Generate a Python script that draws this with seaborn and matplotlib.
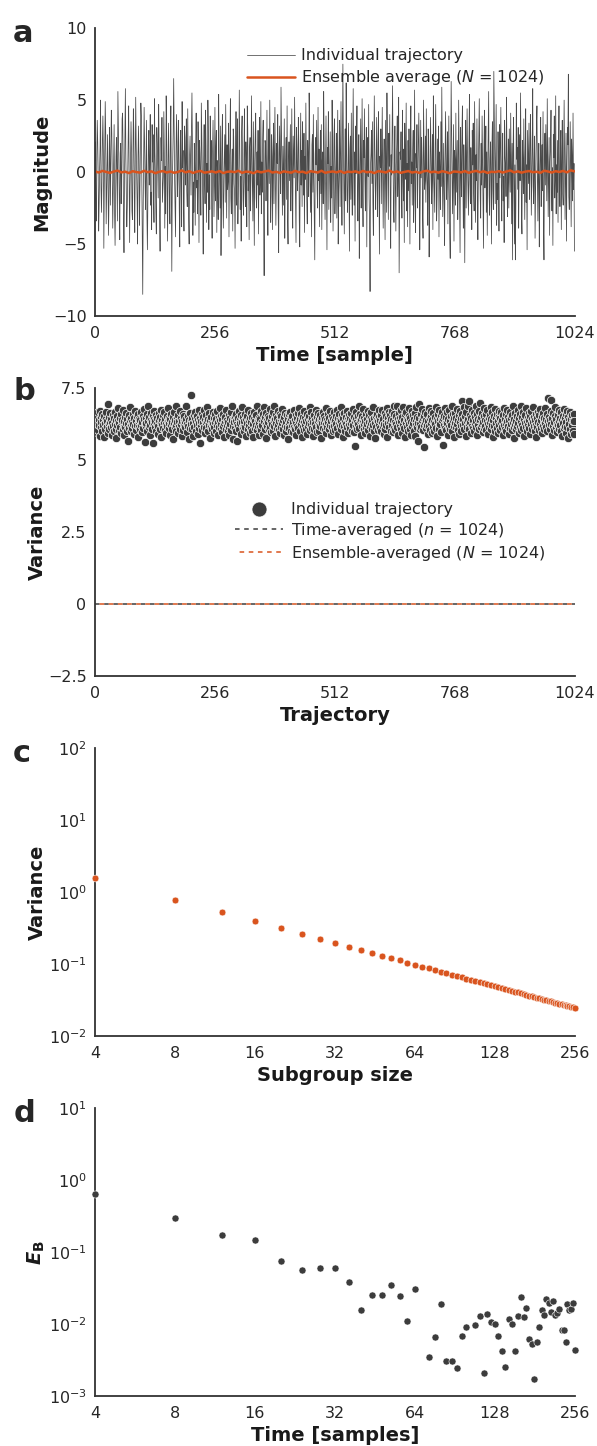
import numpy as np
import matplotlib
matplotlib.use('Agg')
import matplotlib.pyplot as plt
import seaborn as sns

# colours
GREY = '#3c3c3c'
LINE_GREY = '#4a4a4a'
ORANGE = '#d9541e'

# ---------- data ----------
# panel a: one trajectory (1024 samples) and the ensemble average (read every 8 samples)
trajectory = [
    0.8, 2.1, -1.9, -3.4, 1.2, 3.6, 2.0, -0.4, -4.1, -2.2, 0.3, 1.7, 5.0, -1.1, -2.8, -0.6, 2.2, 3.9, 1.4, -5.3, -0.9, 1.6, 4.9, 2.7, -3.6, -1.4, 0.5, 2.6, -0.7, -4.4, -2.0, 3.1,
    0.9, -2.3, 1.6, 4.3, 2.7, -0.2, -3.9, -1.6, 0.5, 3.3, -2.9, -5.1, -1.8, 1.1, 2.4, -0.6, -3.4, 5.6, 3.2, 0.4, -1.8, -4.7, 1.3, 2.0, -2.2, -0.3, 3.7, 4.1, 1.5, -3.0, -5.6, -0.8,
    2.5, 5.8, 0.9, -1.3, -3.8, -2.5, 0.1, 2.3, 4.6, -0.5, -4.9, -1.0, 0.9, 3.5, 1.5, -2.7, -3.3, 0.5, 4.4, 2.8, -1.7, -4.2, 0.6, 5.2, 2.0, -0.1, -2.0, -5.0, 1.2, 3.2, 0.8, -3.7,
    -1.2, 2.1, 4.8, 3.9, -0.4, -4.6, -8.5, -2.4, 1.0, 4.5, 1.7, -0.7, -2.6, 0.3, 3.6, -3.1, -5.4, -1.9, 1.9, 2.9, -0.9, 0.5, 4.0, -2.3, -1.4, -4.0, 3.3, 0.7, 2.6, -1.6, -3.5, 5.1,
    1.4, -0.2, -2.8, -4.3, 3.1, 2.0, 0.2, -1.8, 4.7, 1.6, -3.0, -5.5, -0.6, 2.4, 0.8, 3.8, -2.1, -1.1, -0.3, 4.2, 1.3, -3.9, 0.4, -2.9, 5.3, 2.7, -1.5, -4.8, 0.1, 3.4, 1.0, -2.2,
    -3.6, 2.3, 4.6, -0.8, -6.9, -1.2, 0.9, 2.8, 6.5, 3.0, -0.5, -2.5, -4.5, 1.1, 4.0, 2.1, -1.7, -0.4, 3.6, 1.8, -2.7, -5.2, 0.6, 2.9, -1.0, -3.8, 4.9, 0.3, 1.5, -2.0, -4.1, 3.2,
    2.4, -0.9, 0.7, 3.7, -1.3, -2.4, 4.4, -0.1, -3.3, -5.0, 1.2, 2.5, 0.4, -1.6, 3.1, 5.5, 1.9, -4.4, -0.7, -2.8, 2.0, 0.2, -3.7, 1.6, 4.1, -1.1, -0.6, -2.9, 3.5, 0.9, -4.9, 2.2,
    1.3, -0.3, -3.0, 4.8, 2.6, 0.5, -1.9, -5.7, 1.0, 3.3, -0.8, -2.2, 4.3, 1.8, -3.5, 0.6, -1.4, 5.0, 2.7, -4.0, -0.2, -2.6, 3.9, 0.1, 2.2, -1.7, -4.6, 1.4, 3.6, 0.3, -3.1, -0.9,
    4.5, -2.0, 1.7, 2.9, -4.2, 0.8, -1.0, -3.3, 5.4, 1.5, -0.4, -2.5, 3.2, -5.8, -0.9, 2.3, 4.0, -1.6, -3.9, -0.5, 1.1, 2.6, -2.1, 4.7, 0.3, -3.2, 1.9, -1.2, -0.6, 3.4, -4.5, 0.7,
    2.0, 5.1, -1.8, -2.9, 0.2, 1.6, -4.1, 3.0, 2.5, -0.8, -1.5, -5.3, 0.6, 4.2, -2.3, 1.3, 3.7, -3.6, -1.0, 0.4, 5.7, 1.8, -2.6, -0.3, -4.8, 2.8, 3.9, 0.5, -1.9, -3.0, 1.2, 4.4,
    -0.7, -2.4, 2.1, 0.9, -3.8, 4.6, 3.1, -1.3, -0.2, -4.7, 1.7, 2.4, -2.7, 0.3, 5.3, 1.0, -1.1, -3.4, 3.5, -0.6, -5.1, 0.8, 2.7, 4.1, -1.8, -2.5, 1.4, -0.9, 2.9, -4.3, 0.5, 3.8,
    -1.6, -0.4, 4.9, -2.9, 0.7, -1.4, 2.3, 3.6, -3.1, -7.2, -0.5, 2.2, 1.9, -2.0, 0.1, 4.3, -1.2, -4.4, 1.5, 3.0, -0.8, 5.0, 0.4, -3.5, -1.7, 2.6, 1.1, -4.0, 0.9, 3.4, -2.2, 1.6,
    4.5, -0.3, -3.7, -1.0, 2.0, 0.6, 4.0, -2.6, -5.6, 1.3, 3.2, 0.2, -1.5, 5.9, 2.8, -0.7, -3.0, 1.8, -2.3, 0.5, 3.7, -4.6, -0.1, 1.0, 2.4, -1.9, 4.6, -3.3, -5.0, 0.8, 2.1, -0.6,
    1.4, 3.3, -2.7, 0.3, 4.4, -1.1, -3.9, 2.5, 1.2, -0.4, 5.2, 0.9, -2.1, -4.9, 3.1, 1.7, -1.3, -0.2, 3.8, 2.0, -3.4, -5.2, 0.6, 4.1, -0.9, 1.5, -2.4, 3.5, 0.4, -1.6, 2.7, -4.2,
    1.1, -0.5, 4.8, 0.7, -2.0, -3.6, 2.2, 1.0, -1.7, 5.5, 3.4, -0.8, -2.8, 0.1, -4.5, 1.9, 2.6, -1.4, 4.0, -0.3, -3.1, -6.1, 1.3, 2.4, 0.5, 3.6, -1.2, -2.5, 4.5, -0.6, 1.6, -3.8,
    0.2, 2.9, -1.5, 3.3, -4.0, 0.8, 1.4, -2.2, 5.6, 2.1, -0.5, -3.3, 0.3, 3.9, -1.0, -5.4, 1.7, 0.6, 4.2, -2.6, -0.7, 1.1, 2.8, -3.5, 0.4, -1.8, 5.0, 1.5, -4.1, -0.2, 2.5, 3.7,
    -2.9, -0.9, 0.6, 2.7, -3.2, 1.0, 4.3, -5.0, -1.3, 0.2, 3.6, -2.4, 0.9, 4.9, -0.6, -3.7, 1.8, 7.5, 2.3, -1.1, -4.3, 0.5, 3.0, -2.0, 6.2, 1.2, -1.6, -2.8, 0.7, 3.4, -0.4, -5.5,
    1.6, 2.5, -1.9, 4.1, -0.7, -3.0, 2.0, 5.8, 0.3, -2.3, 1.4, -4.8, 3.2, -0.1, 1.9, 4.6, -1.5, -3.4, 0.8, 2.6, -6.0, -0.9, 1.2, 3.7, -2.5, 0.4, 5.1, -1.2, -3.8, 2.2, 1.0, 4.4,
    -0.5, -2.7, 0.9, 3.1, -5.2, 1.6, 2.4, -0.3, 4.7, -1.8, -3.6, -8.3, 0.5, 1.3, 2.9, -0.8, 3.5, -2.1, -4.4, 0.2, 5.3, 1.7, -1.0, -2.6, 0.6, 3.8, -0.4, -3.1, 2.1, 4.2, -1.4, -5.7,
    1.1, 0.3, 3.0, -2.2, 1.5, 4.5, -0.6, -3.9, 0.7, 2.3, -1.2, -4.7, 3.6, 0.1, -2.8, 5.5, 1.8, -0.9, -3.3, 2.7, 0.4, 4.0, -1.6, -5.3, 1.2, -0.2, 2.6, 6.0, 0.8, -2.4, -3.5, 1.0,
    3.2, -1.1, -4.1, 0.5, 2.0, 3.9, -1.7, -0.3, 5.2, -7.0, -2.9, 1.4, 0.9, 2.8, -1.0, -3.2, 4.3, 0.2, -2.0, 1.6, -4.9, 3.4, 1.1, -0.5, 4.8, -2.7, 0.6, -3.8, 2.2, -1.3, 3.0, 0.4,
    -5.0, 1.9, 4.6, -0.8, 0.7, -2.3, 1.5, 2.9, -3.5, -0.1, 5.7, -1.9, -4.2, 1.3, 0.3, 3.3, -2.5, -0.7, 2.1, 4.1, 1.0, -5.4, -1.5, 3.6, -0.4, 2.4, 0.8, -3.0, -4.6, 5.0, 1.7, -1.2,
    -0.6, 2.5, -2.1, 4.4, 0.1, -0.9, -3.7, 3.0, 1.8, -5.9, -1.4, 0.6, 3.8, 1.2, -2.2, -0.3, 2.6, -4.0, 5.3, 0.4, -1.1, -2.8, 1.9, 4.7, 0.9, -3.4, -1.7, 2.3, -0.5, 3.2, -4.5, 1.4,
    0.2, -2.6, 3.5, -1.0, 5.9, 1.0, -3.1, -0.8, 2.0, -2.4, -5.1, 0.7, 4.2, 1.6, -1.9, -0.2, 2.8, -3.6, 0.5, 3.9, -1.3, -4.3, -6.0, 1.1, 6.3, 2.4, -0.6, -2.9, 0.3, 3.3, -4.8, 1.5,
    0.8, -2.3, 4.1, -1.4, 0.6, 2.2, -3.3, -0.9, 5.0, 1.3, -2.0, -5.6, 3.1, 0.2, -1.7, 2.7, 4.6, -0.4, -3.9, 1.9, -1.0, -6.3, 0.9, 3.6, -2.5, 1.4, 4.4, 0.4, -1.2, -3.0, 2.1, 5.4,
    -0.7, -2.2, 1.7, -0.3, -4.0, 2.9, 0.5, 3.4, -1.5, -2.7, 4.9, 0.8, -3.5, 1.2, -0.6, 3.7, -2.1, -4.7, 0.1, 2.4, 5.1, 1.0, -1.8, -3.2, 2.0, -0.9, 3.9, 0.6, -2.4, -5.3, 1.5, 4.3,
    -1.1, 0.7, 3.2, -2.8, 1.4, -4.4, -0.3, 2.5, 5.6, -1.6, -3.0, 0.9, 2.1, -0.5, -5.0, 1.8, 3.5, -1.3, -2.6, 7.0, 4.0, 0.4, -2.2, 1.6, 4.7, -3.7, -0.8, -1.9, 2.8, 0.2, -4.1, 3.3,
    -0.4, 1.9, 4.5, -1.1, -3.4, 0.6, 2.7, -2.0, -0.3, -4.9, 3.6, 1.1, 0.4, -1.7, 5.2, 1.5, -3.1, -0.7, 2.3, -2.5, 3.0, 0.8, -1.4, 4.1, -0.1, -3.6, 2.0, -6.1, 1.3, 3.8, -0.9, -5.0,
    0.5, -6.1, -2.3, 4.8, 0.9, 1.7, -1.2, 3.1, -3.9, 0.3, 2.6, -0.6, 5.5, 1.0, -2.8, -4.3, 2.2, 0.7, -1.5, 3.7, -0.2, -3.3, 1.4, 4.4, -2.1, 0.5, -5.4, 2.9, 1.2, -0.8, 3.4, -1.9,
    0.1, 4.0, 2.2, -3.0, -0.4, 1.6, 5.8, -1.0, -2.2, 0.8, 2.5, -4.6, -1.6, 1.3, 3.2, 4.6, -0.5, -3.4, 0.6, 2.0, -5.2, -0.7, 1.1, 3.8, -2.4, 0.2, 1.9, -1.3, 4.2, -3.7, -6.1, 0.9,
    2.7, -0.9, 3.3, 0.4, -2.0, 5.1, 1.2, -3.1, -0.3, 2.4, -4.4, 0.7, 1.8, 4.3, -1.1, -2.7, 0.3, -5.1, 2.6, 1.0, 3.9, -1.8, -0.6, 5.3, -2.9, 0.5, -1.4, 2.2, -3.5, 1.7, 4.6, -0.8,
    -2.4, 1.4, 2.9, -4.0, 0.6, 3.6, -1.5, -2.3, 0.9, 5.0, 1.1, -3.3, -0.2, 2.7, -4.8, 0.4, 3.1, 1.9, 6.8, -1.7, -2.6, 0.8, 3.5, -0.5, -3.8, 2.3, 1.0, -2.0, 4.1, -1.2, 0.6, -5.5,
]
ensemble = [
    0.05, -0.03, 0.08, 0.01, -0.06, 0.04, 0.10, -0.02, 0.03, -0.07, 0.06, 0.00, -0.04, 0.09, -0.01, 0.05,
    -0.08, 0.02, 0.07, -0.03, 0.04, -0.05, 0.01, 0.11, -0.02, 0.06, -0.06, 0.03, 0.08, -0.04, 0.00, 0.05,
    -0.03, 0.07, -0.07, 0.02, 0.04, -0.01, 0.09, -0.05, 0.03, 0.01, -0.08, 0.06, -0.02, 0.04, 0.10, -0.03,
    0.02, -0.06, 0.05, 0.00, -0.04, 0.08, -0.01, 0.03, -0.07, 0.06, 0.02, -0.03, 0.09, -0.05, 0.01, 0.04,
    -0.02, 0.07, -0.06, 0.03, 0.00, 0.05, -0.04, 0.08, -0.01, 0.02, -0.07, 0.06, 0.03, -0.03, 0.10, -0.02,
    0.04, -0.05, 0.01, 0.07, -0.03, 0.02, -0.06, 0.05, 0.09, -0.01, 0.03, -0.04, 0.06, 0.00, -0.08, 0.04,
    0.02, -0.02, 0.07, -0.05, 0.03, 0.08, -0.01, 0.05, -0.06, 0.02, 0.00, 0.06, -0.03, 0.04, 0.11, -0.02,
    0.05, -0.04, 0.03, 0.07, -0.01, 0.02, -0.05, 0.09, 0.04, -0.03, 0.06, 0.01, 0.08, -0.02, 0.12, 0.05,
]

# panel b: variance of each of the 1024 trajectories
traj_variance = [
    6.45, 6.12, 6.31, 6.58, 5.98, 6.27, 6.66, 6.05, 6.38, 6.21, 6.72, 5.84, 6.49, 6.16, 6.33, 6.61, 6.02, 6.40, 6.24, 5.79, 6.55, 6.29, 6.09, 6.44, 6.68, 6.18, 6.36, 5.93, 6.95, 6.26, 6.51, 6.07,
    6.34, 6.63, 6.14, 6.42, 5.88, 6.30, 6.57, 6.19, 6.47, 6.01, 6.69, 6.25, 6.10, 6.39, 5.76, 6.53, 6.22, 6.35, 6.80, 6.04, 6.28, 6.46, 6.15, 6.60, 5.95, 6.32, 6.41, 6.08, 6.74, 6.20, 6.37, 5.86,
    6.50, 6.17, 6.29, 6.64, 6.03, 6.43, 5.68, 6.26, 6.56, 6.11, 6.38, 6.85, 6.23, 6.00, 6.48, 6.33, 6.13, 6.59, 6.27, 5.91, 6.45, 6.70, 6.19, 6.36, 6.06, 6.52, 6.24, 5.82, 6.62, 6.31, 6.15, 6.44,
    6.08, 6.39, 6.67, 6.21, 5.97, 6.34, 6.55, 6.12, 6.42, 6.78, 6.25, 5.62, 6.47, 6.18, 6.30, 6.60, 6.03, 6.37, 6.88, 6.14, 6.49, 6.23, 5.87, 6.41, 6.65, 6.10, 6.32, 6.54, 5.60, 6.28, 6.43, 6.71,
    6.16, 6.35, 6.02, 6.58, 6.26, 6.46, 5.92, 6.20, 6.63, 6.38, 6.09, 6.51, 6.29, 6.75, 5.80, 6.40, 6.22, 6.57, 6.13, 6.33, 6.68, 6.05, 6.44, 6.27, 5.96, 6.53, 6.19, 6.36, 6.82, 6.11, 6.30, 6.48,
    5.89, 6.42, 6.24, 6.61, 6.07, 6.34, 6.50, 5.75, 6.28, 6.66, 6.15, 6.39, 6.90, 6.21, 6.01, 6.45, 6.31, 5.94, 6.56, 6.18, 6.37, 6.72, 6.10, 6.26, 6.47, 5.85, 6.35, 6.62, 6.04, 6.41, 6.23, 6.55,
    6.32, 6.14, 6.88, 6.43, 5.99, 6.27, 6.52, 6.20, 6.40, 5.72, 6.64, 6.11, 6.36, 6.25, 7.25, 6.08, 6.47, 6.30, 5.83, 6.58, 6.17, 6.44, 6.69, 6.02, 6.33, 6.21, 6.54, 5.90, 6.39, 6.76, 6.12, 6.29,
    6.46, 5.58, 6.24, 6.37, 6.60, 6.06, 6.31, 6.49, 6.16, 6.73, 5.95, 6.41, 6.28, 6.57, 6.13, 6.35, 6.86, 6.00, 6.43, 6.22, 6.63, 5.78, 6.38, 6.19, 6.51, 6.09, 6.30, 6.67, 6.26, 5.93, 6.45, 6.14,
    6.34, 6.59, 6.03, 6.42, 6.21, 6.70, 5.86, 6.32, 6.48, 6.15, 6.39, 6.81, 6.07, 6.27, 6.55, 5.97, 6.44, 6.18, 6.62, 6.29, 5.81, 6.36, 6.50, 6.10, 6.74, 6.23, 6.41, 6.01, 6.33, 6.58, 6.16, 5.88,
    6.47, 6.25, 6.66, 6.05, 6.38, 6.89, 6.20, 5.73, 6.43, 6.31, 6.54, 6.12, 6.36, 6.02, 6.61, 6.27, 5.65, 6.45, 6.19, 6.71, 6.08, 6.40, 6.28, 6.56, 5.92, 6.34, 6.85, 6.14, 6.49, 6.23, 6.03, 6.37,
    6.60, 6.17, 5.84, 6.42, 6.30, 6.53, 6.09, 6.76, 6.24, 6.39, 5.96, 6.46, 6.13, 6.64, 6.32, 6.00, 6.51, 6.26, 5.79, 6.43, 6.68, 6.11, 6.35, 6.57, 6.21, 6.90, 6.06, 6.40, 6.18, 5.87, 6.48, 6.29,
    6.15, 6.44, 6.72, 6.04, 6.33, 6.22, 6.59, 5.90, 6.37, 6.84, 6.10, 6.50, 6.27, 6.63, 5.77, 6.41, 6.19, 6.55, 6.31, 6.07, 6.46, 6.79, 6.14, 6.36, 5.98, 6.52, 6.25, 6.66, 6.02, 6.39, 6.87, 6.20,
    6.43, 5.83, 6.30, 6.58, 6.12, 6.47, 6.24, 6.70, 6.05, 6.35, 6.61, 5.94, 6.41, 6.16, 6.54, 6.28, 6.78, 6.09, 6.38, 5.86, 6.49, 6.21, 6.65, 6.01, 6.33, 6.56, 6.14, 6.42, 5.74, 6.26, 6.60, 6.11,
    6.37, 6.68, 6.03, 6.45, 6.23, 6.52, 5.97, 6.32, 6.75, 6.17, 6.40, 6.08, 6.57, 6.29, 5.88, 6.46, 6.20, 6.63, 6.12, 6.35, 6.83, 6.00, 6.44, 6.26, 6.59, 5.80, 6.39, 6.15, 6.51, 6.31, 6.06, 6.71,
    6.24, 6.48, 6.10, 6.36, 6.62, 5.92, 6.42, 6.18, 6.55, 6.30, 6.86, 6.04, 6.39, 6.21, 6.67, 6.13, 6.45, 5.85, 6.33, 6.58, 6.07, 6.41, 6.27, 6.73, 6.16, 6.50, 5.99, 6.35, 6.64, 6.22, 6.44, 6.02,
    6.57, 6.19, 6.38, 5.78, 6.47, 6.28, 6.69, 6.11, 6.34, 6.52, 6.05, 6.43, 6.81, 6.25, 5.95, 6.40, 6.14, 6.61, 6.31, 6.08, 6.48, 6.22, 6.70, 5.89, 6.37, 6.55, 6.17, 6.44, 6.01, 6.32, 6.66, 6.20,
    6.39, 6.05, 6.53, 6.27, 6.74, 6.13, 5.91, 6.45, 6.30, 6.60, 6.18, 6.41, 6.84, 6.09, 6.36, 6.24, 6.57, 5.82, 6.46, 6.19, 6.65, 6.33, 6.02, 6.50, 6.26, 6.71, 6.15, 6.42, 5.96, 6.35, 6.58, 6.21,
    6.47, 6.12, 6.63, 6.29, 6.03, 6.40, 6.78, 6.23, 6.51, 5.98, 6.36, 5.50, 6.44, 6.16, 6.68, 6.31, 6.07, 6.55, 6.25, 6.89, 6.11, 6.38, 6.60, 5.87, 6.42, 6.20, 6.54, 6.32, 6.79, 6.08, 6.46, 6.27,
    5.93, 6.37, 6.62, 6.14, 6.43, 6.26, 6.72, 6.04, 6.34, 6.56, 6.19, 5.84, 6.48, 6.30, 6.67, 6.10, 6.40, 6.22, 6.85, 6.01, 6.45, 6.28, 5.77, 6.53, 6.17, 6.39, 6.61, 6.06, 6.35, 6.74, 6.23, 6.49,
    6.13, 6.41, 6.00, 6.58, 6.32, 6.76, 6.18, 6.44, 5.90, 6.27, 6.63, 6.09, 6.37, 6.52, 6.21, 6.82, 5.81, 6.46, 6.29, 6.68, 6.15, 6.35, 6.57, 6.03, 6.43, 6.24, 6.70, 5.97, 6.39, 6.60, 6.12, 6.87,
    6.33, 6.05, 6.55, 6.26, 6.90, 6.14, 6.42, 5.86, 6.31, 6.64, 6.20, 6.47, 6.08, 6.73, 6.36, 5.95, 6.50, 6.23, 6.84, 6.11, 6.40, 6.59, 5.79, 6.29, 6.66, 6.17, 6.44, 6.02, 6.38, 6.81, 6.25, 6.53,
    6.10, 6.46, 5.88, 6.34, 6.71, 6.19, 6.57, 6.28, 6.03, 6.43, 6.65, 5.83, 6.37, 6.22, 6.86, 6.14, 6.51, 6.30, 5.68, 6.95, 6.45, 6.08, 6.26, 6.62, 6.16, 6.39, 6.77, 6.04, 6.48, 6.21, 5.45, 6.55,
    6.32, 6.68, 6.12, 6.41, 6.24, 6.59, 5.92, 6.36, 6.80, 6.18, 6.47, 6.06, 6.54, 6.29, 6.72, 5.96, 6.40, 6.15, 6.63, 6.33, 6.01, 6.49, 6.25, 6.86, 6.11, 6.44, 5.85, 6.35, 6.60, 6.20, 6.76, 6.07,
    6.42, 6.27, 6.58, 5.97, 6.38, 6.69, 5.52, 6.46, 6.22, 6.55, 6.13, 6.81, 6.34, 6.04, 6.50, 6.28, 6.66, 5.89, 6.43, 6.17, 6.74, 6.36, 6.09, 6.52, 6.23, 6.88, 6.00, 6.41, 6.62, 6.19, 5.80, 6.47,
    6.30, 6.65, 6.14, 6.45, 6.26, 6.79, 6.05, 6.39, 6.57, 5.91, 6.34, 6.71, 6.18, 6.48, 6.02, 6.61, 7.05, 6.24, 6.42, 6.84, 6.10, 6.53, 6.29, 5.84, 6.68, 6.37, 6.16, 6.90, 6.44, 6.21, 7.05, 6.07,
    6.56, 6.33, 5.94, 6.47, 6.20, 6.75, 6.12, 6.40, 6.63, 6.03, 6.51, 6.27, 6.88, 6.15, 6.36, 5.86, 6.59, 6.22, 6.44, 6.70, 6.08, 6.38, 6.98, 6.17, 6.49, 6.25, 6.64, 5.99, 6.32, 6.55, 6.11, 6.82,
    6.41, 6.19, 6.60, 6.04, 6.35, 6.73, 6.26, 5.92, 6.46, 6.14, 6.57, 6.31, 6.85, 6.09, 6.43, 6.23, 6.67, 5.82, 6.38, 6.52, 6.18, 6.78, 6.01, 6.45, 6.28, 6.62, 6.13, 6.37, 5.95, 6.54, 6.21, 6.71,
    6.06, 6.48, 6.32, 6.66, 6.16, 6.40, 5.87, 6.58, 6.24, 6.83, 6.10, 6.44, 6.29, 6.61, 6.02, 6.36, 6.74, 6.20, 6.50, 5.90, 6.39, 6.12, 6.69, 6.27, 6.46, 6.05, 6.56, 6.33, 6.87, 6.14, 5.78, 6.42,
    6.25, 6.63, 6.08, 6.37, 6.53, 6.19, 6.76, 6.30, 5.96, 6.45, 6.15, 6.60, 6.34, 6.04, 6.89, 6.22, 6.49, 6.11, 6.67, 5.85, 6.41, 6.28, 6.58, 6.17, 6.80, 6.35, 6.03, 6.47, 6.21, 6.65, 6.13, 6.39,
    5.91, 6.54, 6.26, 6.72, 6.09, 6.43, 6.31, 6.85, 6.18, 6.50, 6.00, 6.38, 6.62, 6.23, 5.82, 6.46, 6.14, 6.69, 6.33, 6.05, 6.57, 6.27, 6.78, 6.12, 6.40, 5.93, 6.52, 6.20, 6.64, 6.36, 6.07, 6.48,
    6.29, 6.82, 6.16, 6.44, 6.01, 6.60, 6.35, 7.15, 6.22, 6.51, 6.10, 6.39, 6.71, 6.25, 7.10, 5.88, 6.46, 6.19, 6.63, 6.32, 6.06, 6.55, 6.84, 6.14, 6.42, 6.27, 5.97, 6.58, 6.21, 6.75, 6.37, 6.09,
    6.47, 6.23, 6.66, 6.02, 6.38, 5.84, 6.53, 6.30, 6.79, 6.13, 6.45, 6.20, 6.61, 5.95, 6.34, 6.70, 6.17, 6.49, 5.78, 6.40, 6.26, 6.67, 6.08, 6.43, 5.92, 6.56, 6.24, 6.36, 6.01, 6.62, 5.90, 6.35,
]
time_avg_variance = 0.0
ensemble_avg_variance = 0.0
b_ytick_values = [-2.5, 0, 2.5, 5, 7.5]
b_ytick_labels = ['\u22122.5', '0', '2.5', '5', '7.5']

# panel c: variance of subgroup means
subgroup_size = list(range(4, 257, 4))
subgroup_variance = [
    1.575, 0.788, 0.525, 0.394, 0.315, 0.263, 0.225, 0.197, 0.175, 0.158, 0.143, 0.131, 0.121, 0.113, 0.105, 0.0984,
    0.0926, 0.0875, 0.0829, 0.0788, 0.0750, 0.0716, 0.0685, 0.0656, 0.0630, 0.0606, 0.0583, 0.0563, 0.0543, 0.0525, 0.0508, 0.0492,
    0.0477, 0.0463, 0.0450, 0.0438, 0.0426, 0.0414, 0.0404, 0.0394, 0.0384, 0.0375, 0.0366, 0.0358, 0.0350, 0.0342, 0.0335, 0.0328,
    0.0321, 0.0315, 0.0309, 0.0303, 0.0297, 0.0292, 0.0286, 0.0281, 0.0276, 0.0272, 0.0267, 0.0263, 0.0258, 0.0254, 0.0250, 0.0246,
]

# panel d: E_B against time
eb_time = [4, 8, 12, 16, 20, 24, 28, 32, 36, 40, 44, 48, 52, 56, 60, 64,
           72, 76, 80, 84, 88, 92, 96, 100,
           108, 112, 116, 120, 124, 128, 132, 136, 140, 144, 148, 152, 156, 160, 164, 168,
           172, 176, 180, 184, 188, 192, 196, 200, 204, 208, 212, 216, 220, 224, 228, 232,
           236, 240, 244, 248, 252, 256]
eb_value = [0.65, 0.30, 0.173, 0.149, 0.074, 0.056, 0.060, 0.061, 0.039, 0.0155, 0.0257, 0.025, 0.0347, 0.0246, 0.0109, 0.031,
            0.00347, 0.00666, 0.019, 0.00311, 0.00311, 0.00246, 0.00673, 0.0092,
            0.00957, 0.01294, 0.00209, 0.0139, 0.0108, 0.0100, 0.0068, 0.0042, 0.00254, 0.01175, 0.0100, 0.0042, 0.01306, 0.0240, 0.01253, 0.01656,
            0.00624, 0.00526, 0.00173, 0.00555, 0.0092, 0.01568, 0.01349, 0.02255, 0.01985, 0.01486, 0.0207, 0.0132, 0.01423, 0.01618, 0.00824, 0.00824,
            0.00555, 0.01923, 0.01585, 0.01618, 0.0196, 0.0043]

pow2_ticks = [4, 8, 16, 32, 64, 128, 256]
lin_ticks = [0, 256, 512, 768, 1024]

# ---------- style ----------
sns.set_style('white')
plt.rcParams['font.family'] = ['DejaVu Sans']
plt.rcParams['axes.edgecolor'] = '#333333'
plt.rcParams['axes.linewidth'] = 1.3
plt.rcParams['xtick.color'] = '#262626'
plt.rcParams['ytick.color'] = '#262626'
plt.rcParams['xtick.labelsize'] = 11.5
plt.rcParams['ytick.labelsize'] = 11.5
plt.rcParams['xtick.major.pad'] = 3.5
plt.rcParams['ytick.major.pad'] = 2.5
plt.rcParams['axes.labelsize'] = 14
plt.rcParams['axes.labelweight'] = 'bold'
plt.rcParams['axes.labelcolor'] = '#1a1a1a'

fig = plt.figure(figsize=(5.97, 14.46), dpi=100)
L, W, H = 0.159, 0.804, 0.199
ax_a = fig.add_axes([L, 0.7815, W, H])
ax_b = fig.add_axes([L, 0.5325, W, H])
ax_c = fig.add_axes([L, 0.2835, W, H])
ax_d = fig.add_axes([L, 0.0346, W, H])

for ax, lab, y in zip([ax_a, ax_b, ax_c, ax_d], 'abcd', [0.971, 0.7234, 0.473, 0.224]):
    sns.despine(ax=ax)
    fig.text(0.022, y, lab, fontsize=22, fontweight='bold', va='baseline')

# ---------- a ----------
t = np.arange(len(trajectory))
t_ens = np.linspace(0, len(trajectory) - 1, len(ensemble))
sns.lineplot(x=t, y=trajectory, ax=ax_a, color=LINE_GREY, lw=0.55, estimator=None,
             label='Individual trajectory')
sns.lineplot(x=t_ens, y=ensemble, ax=ax_a, color=ORANGE, lw=1.8, estimator=None,
             label='Ensemble average ($N$ = 1024)')
ax_a.set_xlim(0, 1024)
ax_a.set_ylim(-10, 10)
ax_a.set_xticks(lin_ticks)
ax_a.set_yticks([-10, -5, 0, 5, 10])
ax_a.set_xlabel('Time [sample]')
ax_a.set_ylabel('Magnitude', labelpad=1)
ax_a.legend(frameon=False, loc='upper left', bbox_to_anchor=(0.317, 0.93),
            borderaxespad=0, borderpad=0, handlelength=3, handletextpad=0.4,
            labelspacing=0.3, fontsize=11.5)

# ---------- b ----------
idx = np.arange(len(traj_variance))
sns.scatterplot(x=idx, y=traj_variance, ax=ax_b, color=GREY, s=36,
                edgecolor='white', linewidth=0.5, label='Individual trajectory', zorder=3)
ax_b.axhline(time_avg_variance, color=GREY, lw=1.1, ls=(0, (3, 3)),
             label='Time-averaged ($n$ = 1024)')
ax_b.axhline(ensemble_avg_variance, color=ORANGE, lw=1.1, ls=(3, (3, 3)),
             label='Ensemble-averaged ($N$ = 1024)')
ax_b.set_xlim(0, 1024)
ax_b.set_ylim(-2.5, 7.5)
ax_b.set_xticks(lin_ticks)
ax_b.set_yticks(b_ytick_values)
ax_b.set_yticklabels(b_ytick_labels)
ax_b.set_xlabel('Trajectory')
ax_b.set_ylabel('Variance', labelpad=1)
ax_b.legend(frameon=False, loc='upper left', bbox_to_anchor=(0.292, 0.606),
            borderaxespad=0, borderpad=0, handlelength=3, handletextpad=0.5,
            labelspacing=0.25, fontsize=11.5, markerscale=1.8)

# ---------- c ----------
sns.scatterplot(x=subgroup_size, y=subgroup_variance, ax=ax_c, color=ORANGE, s=24,
                edgecolor='white', linewidth=0.4, clip_on=False, zorder=3)
ax_c.set_xscale('log', base=2)
ax_c.set_yscale('log')
ax_c.set_xlim(4, 256)
ax_c.set_ylim(1e-2, 1e2)
ax_c.set_xticks(pow2_ticks)
ax_c.set_xticklabels([str(v) for v in pow2_ticks])
ax_c.set_yticks([1e-2, 1e-1, 1e0, 1e1, 1e2])
ax_c.minorticks_off()
ax_c.set_xlabel('Subgroup size')
ax_c.set_ylabel('Variance', labelpad=1)

# ---------- d ----------
sns.scatterplot(x=eb_time, y=eb_value, ax=ax_d, color=GREY, s=26,
                edgecolor='white', linewidth=0.4, clip_on=False, zorder=3)
ax_d.set_xscale('log', base=2)
ax_d.set_yscale('log')
ax_d.set_xlim(4, 256)
ax_d.set_ylim(1e-3, 1e1)
ax_d.set_xticks(pow2_ticks)
ax_d.set_xticklabels([str(v) for v in pow2_ticks])
ax_d.set_yticks([1e-3, 1e-2, 1e-1, 1e0, 1e1])
ax_d.minorticks_off()
ax_d.set_xlabel('Time [samples]')
ax_d.set_ylabel(r'$\mathbfit{E}_\mathbf{B}$', labelpad=1)

fig.savefig('out.png', dpi=100)
